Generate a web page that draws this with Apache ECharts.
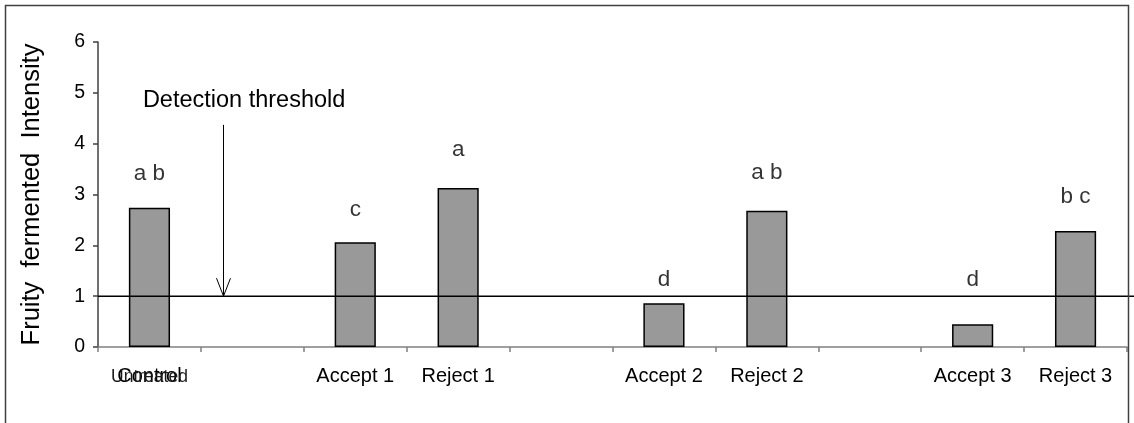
<!DOCTYPE html>
<html>
<head>
<meta charset="utf-8">
<script src="https://cdn.jsdelivr.net/npm/echarts@6/dist/echarts.min.js"></script>
<style>
html,body{margin:0;padding:0;background:#fff;}
#chart{width:1134px;height:423px;}
</style>
</head>
<body>
<div id="chart"></div>
<script>
// ---- data ----
const categories = ['Control', '', 'Accept 1', 'Reject 1', '', 'Accept 2', 'Reject 2', '', 'Accept 3', 'Reject 3'];
const altCategories = ['Untreated', '', '', '', '', '', '', '', '', ''];
const intensity = [2.74, null, 2.06, 3.13, null, 0.86, 2.68, null, 0.45, 2.28];
const letters = ['a b', '', 'c', 'a', '', 'd', 'a b', '', 'd', 'b c'];
const letterLevel = [3.41, null, 2.70, 3.88, null, 1.32, 3.42, null, 1.32, 2.95];
const yMin = 0, yMax = 6, yStep = 1;
const yTitle = 'Fruity  fermented  Intensity';
const threshold = 1;
const thresholdLabel = 'Detection threshold';
const arrowTop = [1.21, 4.37];      // band units, intensity
const thresholdLabelAt = [1.42, 4.84];

const FONT = '"Liberation Sans", Arial, sans-serif';
const chart = echarts.init(document.getElementById('chart'));

chart.setOption({
  animation: false,
  backgroundColor: '#fff',
  graphic: [{
    type: 'rect', z: 100, silent: true,
    shape: { x: 5.5, y: 5.5, width: 1123, height: 440 },
    style: { fill: 'none', stroke: '#404040', lineWidth: 1.5 }
  }],
  grid: { left: 98, right: 7, top: 42, bottom: 76, containLabel: false },
  xAxis: [{
    type: 'category', gridIndex: 0, position: 'bottom', data: categories, boundaryGap: true,
    axisLine: { lineStyle: { color: '#808080', width: 1.5 } },
    axisTick: { show: true, interval: 0, length: 5, lineStyle: { color: '#808080', width: 1.5 } },
    axisLabel: { interval: 0, margin: 19, color: '#000', fontFamily: FONT, fontSize: 20 },
    splitLine: { show: false }
  }, {
    type: 'category', gridIndex: 0, position: 'bottom', data: altCategories, boundaryGap: true,
    axisLine: { show: false }, axisTick: { show: false },
    axisLabel: { interval: 0, margin: 21, color: '#1a1a1a', fontFamily: FONT, fontSize: 17.5 },
    splitLine: { show: false }
  }, {
    type: 'value', gridIndex: 0, min: 0, max: categories.length, show: false
  }],
  yAxis: [{
    type: 'value', min: yMin, max: yMax, interval: yStep,
    name: yTitle, nameLocation: 'middle', nameGap: 53, nameRotate: 90,
    nameTextStyle: { color: '#000', fontFamily: FONT, fontSize: 25.5 },
    axisLine: { show: true, lineStyle: { color: '#404040', width: 1.5 } },
    axisTick: { show: true, length: 5, lineStyle: { color: '#404040', width: 1.5 } },
    axisLabel: { margin: 13, color: '#000', fontFamily: FONT, fontSize: 19.5 },
    splitLine: { show: false }
  }],
  series: [{
    type: 'bar', xAxisIndex: 0, yAxisIndex: 0, data: intensity, barWidth: '40%',
    itemStyle: { color: '#999999', borderColor: '#000', borderWidth: 1.5 },
    z: 2
  }, {
    type: 'scatter', xAxisIndex: 0, yAxisIndex: 0, data: letterLevel, symbolSize: 0,
    label: {
      show: true, position: 'inside', color: '#000', fontFamily: FONT, fontSize: 22.5,
      formatter: p => letters[p.dataIndex]
    },
    z: 3
  }, {
    type: 'custom', xAxisIndex: 2, yAxisIndex: 0, z: 4, silent: true,
    data: [[0, threshold]],
    renderItem: function (params, api) {
      const start = api.coord([0, threshold]);
      const endX = api.getWidth();
      const top = api.coord(arrowTop);
      const tip = api.coord([arrowTop[0], threshold]);
      const lbl = api.coord(thresholdLabelAt);
      const ax = Math.round(top[0]) + 0.5;
      return {
        type: 'group',
        children: [{
          type: 'line',
          shape: { x1: start[0], y1: start[1], x2: endX, y2: start[1] },
          style: { stroke: '#000', lineWidth: 1.5 }
        }, {
          type: 'line',
          shape: { x1: ax, y1: top[1], x2: ax, y2: tip[1] },
          style: { stroke: '#000', lineWidth: 1 }
        }, {
          type: 'polyline',
          shape: { points: [[ax - 7, tip[1] - 18], [ax, tip[1]], [ax + 7, tip[1] - 18]] },
          style: { stroke: '#000', lineWidth: 1, fill: 'none' }
        }, {
          type: 'text',
          x: lbl[0], y: lbl[1],
          style: {
            text: thresholdLabel, fill: '#000', font: '23.5px ' + FONT,
            align: 'center', verticalAlign: 'middle'
          }
        }]
      };
    }
  }]
});
</script>
</body>
</html>
